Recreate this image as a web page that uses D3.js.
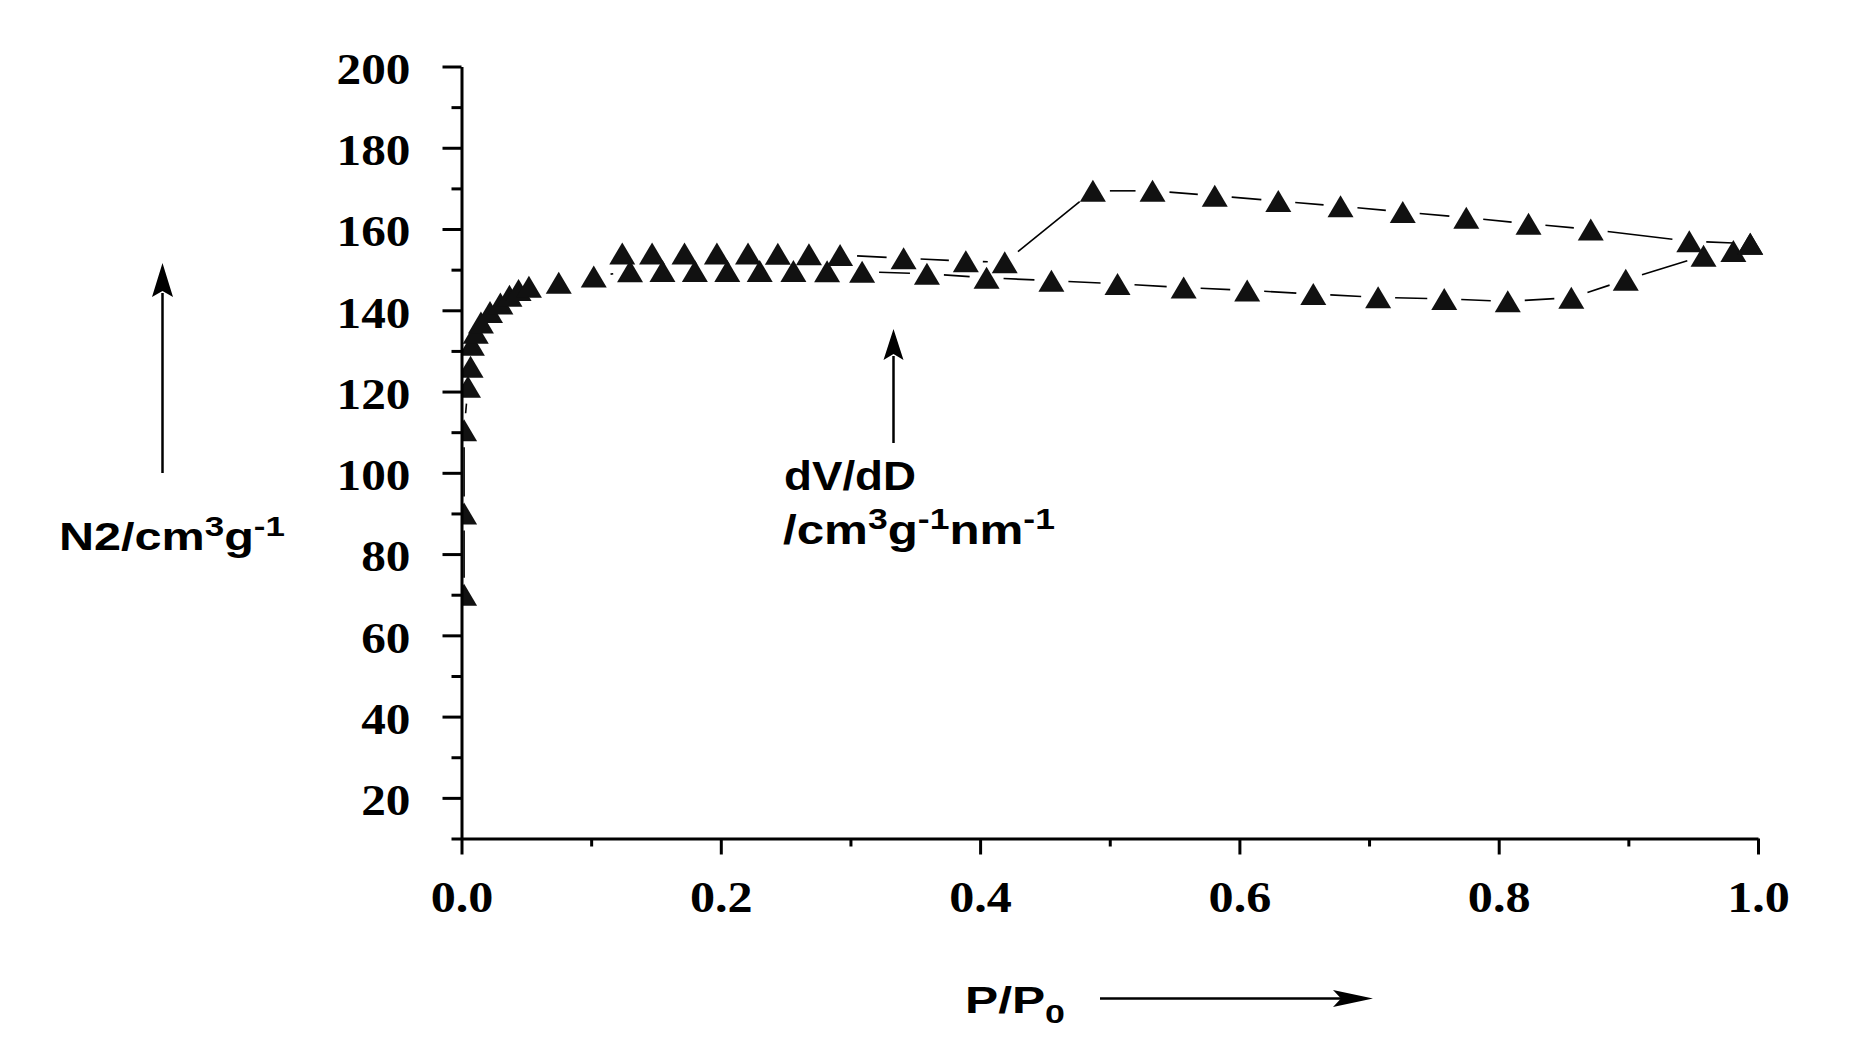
<!DOCTYPE html>
<html><head><meta charset="utf-8">
<script src="https://cdn.jsdelivr.net/npm/d3@7"></script>
<style>body{margin:0;background:#fff;} svg{display:block;background:#fff}</style>
</head><body>
<svg id="c" width="1863" height="1048"></svg>
<script>
// ---- data ----
const xMajorTicks = [0, 0.2, 0.4, 0.6, 0.8, 1.0];
const xMinorTicks = [0.1, 0.3, 0.5, 0.7, 0.9];
const yMajorTicks = [20, 40, 60, 80, 100, 120, 140, 160, 180, 200];
const yMinorTicks = [10, 30, 50, 70, 90, 110, 130, 150, 170, 190];

// adsorption branch (lower), increasing P/P0
const adsP = [0.002, 0.002, 0.002, 0.005, 0.007, 0.008, 0.011, 0.015, 0.022, 0.030, 0.037, 0.044, 0.052, 0.075, 0.102,
              0.130, 0.155, 0.180, 0.205, 0.230, 0.256, 0.282, 0.309, 0.359, 0.405, 0.455, 0.506, 0.557, 0.606,
              0.657, 0.707, 0.758, 0.807, 0.856, 0.898, 0.958, 0.981, 0.994];
const adsV = [70, 90, 110.5, 121.2, 126.1, 131.5, 134.5, 137.0, 139.6, 141.7, 143.6, 145.0, 145.8, 146.8, 148.3,
              149.6, 149.7, 149.7, 149.7, 149.7, 149.7, 149.6, 149.5, 149.0, 148.0, 147.3, 146.5, 145.6, 144.9,
              144.0, 143.2, 142.8, 142.2, 143.1, 147.5, 153.4, 154.6, 156.4];

// desorption branch (upper), decreasing P/P0
const desP = [0.994, 0.947, 0.871, 0.823, 0.775, 0.726, 0.678, 0.630, 0.581, 0.533, 0.487, 0.419, 0.389, 0.341,
              0.292, 0.268, 0.244, 0.221, 0.197, 0.172, 0.147, 0.124];
const desV = [156.4, 157.0, 159.9, 161.3, 162.8, 164.2, 165.6, 166.9, 168.2, 169.4, 169.4, 151.8, 152.1, 152.8,
              153.6, 153.8, 153.9, 154.0, 154.0, 154.0, 154.0, 154.0];

// ---- drawing ----
const svg = d3.select('#c');
const x = d3.scaleLinear().domain([0, 1]).range([461.5, 1758]);
const y = d3.scaleLinear().domain([10, 200]).range([838.5, 66.5]);
const SERIF = "'Liberation Serif','Times New Roman',serif";
const SANS = "'Liberation Sans',Arial,sans-serif";

// clip at y axis
svg.append('defs').append('clipPath').attr('id', 'plotclip')
  .append('rect').attr('x', x(0) + 1).attr('y', 0).attr('width', 1400).attr('height', 900);

const plot = svg.append('g').attr('clip-path', 'url(#plotclip)');

function drawSeries(P, V) {
  const pts = P.map((p, i) => [x(p), y(V[i])]);
  const gap = 17;
  for (let i = 0; i < pts.length - 1; i++) {
    const [x1, y1] = pts[i], [x2, y2] = pts[i + 1];
    const d = Math.hypot(x2 - x1, y2 - y1);
    if (d <= 2 * gap + 2) continue;
    const ux = (x2 - x1) / d, uy = (y2 - y1) / d;
    plot.append('line')
      .attr('x1', x1 + ux * gap).attr('y1', y1 + uy * gap)
      .attr('x2', x2 - ux * gap).attr('y2', y2 - uy * gap)
      .attr('stroke', '#000').attr('stroke-width', 1.6);
  }
  return pts;
}
const aPts = drawSeries(adsP, adsV);
const dPts = drawSeries(desP, desV);
const tri = 'M0,-11L13,11L-13,11Z';
plot.selectAll('path.m').data(aPts.concat(dPts)).join('path')
  .attr('class', 'm').attr('d', tri)
  .attr('transform', d => `translate(${d[0]},${d[1]})`)
  .attr('fill', '#111');

// axes
function styleAxis(g) {
  g.selectAll('path.domain').attr('stroke', '#000').attr('stroke-width', 3);
  g.selectAll('.tick line').attr('stroke', '#000').attr('stroke-width', 3);
  g.selectAll('.tick text').attr('fill', '#000').style('font-family', SERIF)
    .style('font-weight', 'bold').style('font-size', '44px');
}
const yAx = svg.append('g').attr('transform', `translate(${x(0)},0)`)
  .call(d3.axisLeft(y).tickValues(yMajorTicks).tickSize(19).tickSizeOuter(0).tickPadding(32).tickFormat(d3.format('d')));
styleAxis(yAx);
yAx.selectAll('.tick text').attr('dy', '0.38em')
  .attr('transform', function () { const tx = +this.getAttribute('x'); return `translate(${tx},0) scale(1.12,1) translate(${-tx},0)`; });
const yAxMin = svg.append('g').attr('transform', `translate(${x(0)},0)`)
  .call(d3.axisLeft(y).tickValues(yMinorTicks).tickSize(10).tickSizeOuter(0).tickFormat(''));
styleAxis(yAxMin);
yAxMin.select('path.domain').remove();

const xAx = svg.append('g').attr('transform', `translate(0,${y(10)})`)
  .call(d3.axisBottom(x).tickValues(xMajorTicks).tickSize(16).tickSizeOuter(0).tickPadding(26).tickFormat(d3.format('.1f')));
styleAxis(xAx);
xAx.selectAll('.tick text').attr('transform', 'scale(1.14,1)');
const xAxMin = svg.append('g').attr('transform', `translate(0,${y(10)})`)
  .call(d3.axisBottom(x).tickValues(xMinorTicks).tickSize(8).tickSizeOuter(0).tickFormat(''));
styleAxis(xAxMin);
xAxMin.select('path.domain').remove();

// labels with super/subscripts
function label(parts, size, baseline, x0, targetW) {
  const t = svg.append('text').attr('x', 0).attr('y', baseline)
    .style('font-family', SANS).style('font-weight', 'bold').style('font-size', size + 'px').attr('fill', '#000');
  let shift = 0;
  parts.forEach(([s, type]) => {
    const sp = t.append('tspan').text(s);
    let target = 0;
    if (type === 'sup') { target = -0.38 * size; sp.style('font-size', (0.72 * size) + 'px'); }
    if (type === 'sub') { target = 0.28 * size; sp.style('font-size', (0.72 * size) + 'px'); }
    if (target !== shift) { sp.attr('dy', target - shift); shift = target; }
  });
  const bb = t.node().getBBox();
  const k = targetW / bb.width;
  t.attr('transform', `translate(${x0},0) scale(${k},1) translate(${-bb.x},0)`);
  return t;
}
label([['N2/cm'], ['3', 'sup'], ['g'], ['-1', 'sup']], 38, 550, 59, 226);
label([['dV/dD']], 40, 490, 784, 132);
label([['/cm'], ['3', 'sup'], ['g'], ['-1', 'sup'], ['nm'], ['-1', 'sup']], 40, 544, 783, 272);
label([['P/P'], ['0', 'sub']], 37, 1013, 965, 100);

// arrows
function vArrow(xc, yTip, yBottom, headLen, halfW) {
  svg.append('line').attr('x1', xc).attr('x2', xc).attr('y1', yBottom).attr('y2', yTip + headLen - 4)
    .attr('stroke', '#000').attr('stroke-width', 2.5);
  svg.append('path').attr('d', `M${xc},${yTip}L${xc + halfW},${yTip + headLen}L${xc},${yTip + headLen - 6}L${xc - halfW},${yTip + headLen}Z`)
    .attr('fill', '#000');
}
vArrow(162.5, 263, 473, 34, 10.5);
vArrow(893.5, 329, 443, 31, 10);
svg.append('line').attr('x1', 1100).attr('x2', 1345).attr('y1', 998.5).attr('y2', 998.5)
  .attr('stroke', '#000').attr('stroke-width', 2.5);
svg.append('path').attr('d', 'M1373,998.5L1333,990L1341,998.5L1333,1007Z').attr('fill', '#000');
</script>
</body></html>
